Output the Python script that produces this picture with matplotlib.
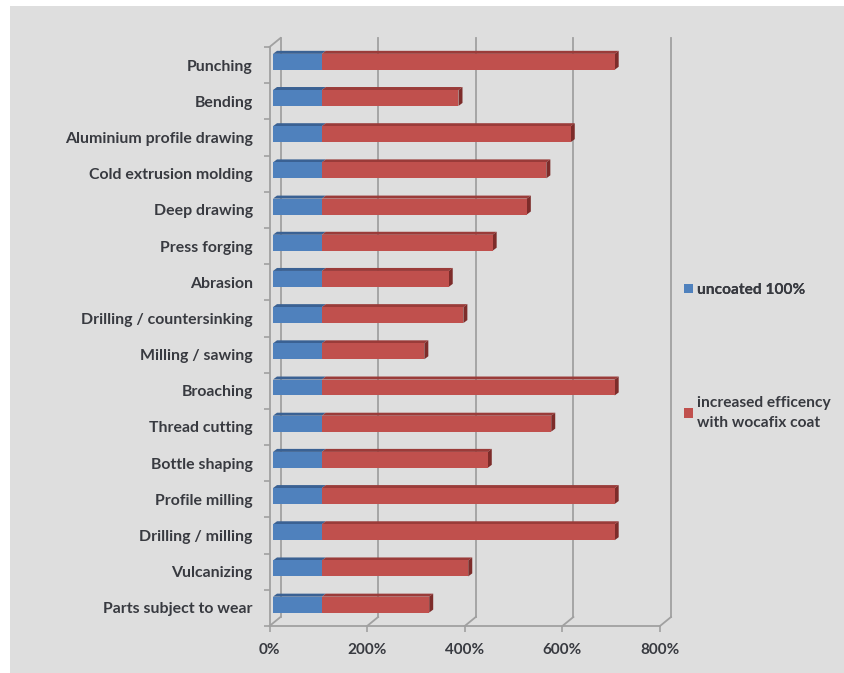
import matplotlib
matplotlib.use("Agg")
import matplotlib.pyplot as plt
from matplotlib.patches import Polygon, Rectangle
from matplotlib.transforms import Affine2D
import numpy as np

categories = ["Punching", "Bending", "Aluminium profile drawing", "Cold extrusion molding",
              "Deep drawing", "Press forging", "Abrasion", "Drilling / countersinking",
              "Milling / sawing", "Broaching", "Thread cutting", "Bottle shaping",
              "Profile milling", "Drilling / milling", "Vulcanizing", "Parts subject to wear"]
uncoated = [100] * 16
totals = [700, 380, 610, 560, 520, 450, 360, 390, 310, 700, 570, 440, 700, 700, 400, 320]
increase = [t - u for t, u in zip(totals, uncoated)]
xticks = [0, 200, 400, 600, 800]
xticklabels = ["0%", "200%", "400%", "600%", "800%"]
legend_labels = ["uncoated 100%", "increased efficency\nwith wocafix coat"]

W, H = 844, 673
plt.rcParams['font.family'] = ['Lato', 'DejaVu Sans']
fig = plt.figure(figsize=(W / 100, H / 100), dpi=100, facecolor="white")
fig.patches.append(Rectangle((10 / W, 0), (W - 10) / W, (H - 6) / H, transform=fig.transFigure,
                             facecolor="#dedede", edgecolor="none", zorder=-10))

ax = fig.add_axes([269.5 / W, 47 / H, 390.5 / W, 579 / H])
ax.set_facecolor("none")
n = len(categories)
ax.set_xlim(0, 800)
ax.set_ylim(n - 0.5, -0.5)

GRID = "#a0a0a0"
TXT = "#383a40"
DEPTH = np.array([11.0, 9.0])      # back wall offset (pixels)
BOFF = np.array([3.5, 3.3])        # bar front offset (pixels)
BDEP = np.array([4.0, 3.0])        # bar depth (pixels)

def shifted(points, off):
    disp = ax.transData.transform(np.asarray(points, float)) + off
    return ax.transData.inverted().transform(disp)

# back wall gridlines
for v in xticks:
    ax.plot([v, v], [n - 0.5, -0.5], color=GRID, lw=1.3,
            transform=ax.transData + Affine2D().translate(*DEPTH), clip_on=False, zorder=1)
    p = shifted([[v, n - 0.5]], 0)[0]
    q = shifted([[v, n - 0.5]], DEPTH)[0]
    ax.plot([p[0], q[0]], [p[1], q[1]], color=GRID, lw=1.3, clip_on=False, zorder=1)
p = shifted([[0, -0.5]], 0)[0]
q = shifted([[0, -0.5]], DEPTH)[0]
ax.plot([p[0], q[0]], [p[1], q[1]], color=GRID, lw=1.3, clip_on=False, zorder=1)

for s in ["top", "right"]:
    ax.spines[s].set_visible(False)
for s in ["left", "bottom"]:
    ax.spines[s].set_color(GRID)
    ax.spines[s].set_linewidth(1.3)

h = 0.44
y = np.arange(n)
tr = ax.transData + Affine2D().translate(*BOFF)
blue, blue_top = "#4f81bd", "#3a6193"
red, red_top, red_side = "#c0504d", "#9a3b39", "#7d2c2a"
bars_b = ax.barh(y, uncoated, height=h, color=blue, transform=tr, zorder=3, clip_on=False)
bars_r = ax.barh(y, increase, left=uncoated, height=h, color=red, transform=tr, zorder=3, clip_on=False)

for i in range(n):
    top = i - h / 2
    bot = i + h / 2
    segs = [(0, uncoated[i], blue_top), (uncoated[i], totals[i], red_top)]
    for x0, x1, c in segs:
        f = shifted([[x0, top], [x1, top]], BOFF)
        b = shifted([[x1, top], [x0, top]], BOFF + BDEP)
        ax.add_patch(Polygon(np.vstack([f, b]), closed=True, facecolor=c, edgecolor="none",
                             zorder=2.9, clip_on=False))
    f = shifted([[totals[i], bot], [totals[i], top]], BOFF)
    b = shifted([[totals[i], top], [totals[i], bot]], BOFF + BDEP)
    ax.add_patch(Polygon(np.vstack([f, b]), closed=True, facecolor=red_side, edgecolor="none",
                         zorder=2.9, clip_on=False))

ax.set_yticks(y)
ax.set_yticklabels(categories)
ax.set_yticks(np.arange(n + 1) - 0.5, minor=True)
ax.tick_params(axis="y", which="major", length=0, pad=12, labelsize=11.4, labelcolor=TXT)
ax.tick_params(axis="y", which="minor", length=4, width=1.2, color=GRID)
for t in ax.get_yticklabels():
    t.set_fontweight("bold")
ax.set_xticks(xticks)
ax.set_xticklabels(xticklabels)
ax.tick_params(axis="x", length=4, width=1.2, color=GRID, pad=8, labelsize=11, labelcolor=TXT)
for t in ax.get_xticklabels():
    t.set_fontweight("bold")

lkw = dict(frameon=False, borderpad=0, borderaxespad=0, handlelength=0.55, handleheight=0.55,
           handletextpad=0.3, prop={"size": 11.2, "weight": "bold"}, labelcolor=TXT, loc="center left")
leg1 = fig.legend([bars_b], [legend_labels[0]], bbox_to_anchor=(684 / W, (H - 290) / H), **lkw)
leg2 = fig.legend([bars_r], [legend_labels[1]], bbox_to_anchor=(684 / W, (H - 413) / H), **lkw)
for t in leg2.get_texts():
    t.set_linespacing(1.55)
fig.add_artist(leg1)

fig.savefig("out.png", dpi=100, facecolor="white")
